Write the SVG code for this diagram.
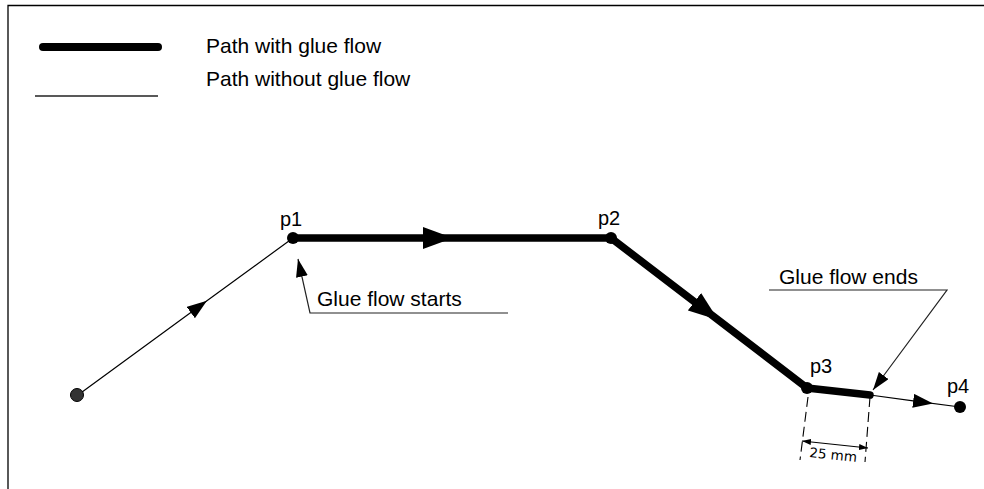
<svg xmlns="http://www.w3.org/2000/svg" width="984" height="489" viewBox="0 0 984 489">
<style>
  .txt { font-family: "Liberation Sans", Arial, sans-serif; font-size: 21px; fill: #000; }
  .lbl { font-family: "Liberation Sans", Arial, sans-serif; font-size: 20px; fill: #000; }
  .dim { font-family: "DejaVu Sans", sans-serif; font-size: 13.5px; fill: #000; }
  .thick { fill: none; stroke: #000; stroke-width: 7.5; stroke-linecap: round; stroke-linejoin: round; }
  .thin { fill: none; stroke: #000; stroke-width: 1.2; }
  .leader { fill: none; stroke: #222; stroke-width: 1.2; }
  .dash { fill: none; stroke: #000; stroke-width: 1.1; stroke-dasharray: 10 5; }
  .frame { fill: none; stroke: #000; stroke-width: 1.3; }
  .dot { fill: #000; }
</style>
<defs>
  <marker id="thickArrow" markerUnits="userSpaceOnUse" viewBox="0 0 30 22" markerWidth="30" markerHeight="22" refX="0" refY="11" orient="auto">
    <path d="M0,0 L30,11 L0,22 z" fill="#000"/>
  </marker>
  <marker id="thinArrow" markerUnits="userSpaceOnUse" viewBox="0 0 20 14" markerWidth="20" markerHeight="14" refX="0" refY="7" orient="auto">
    <path d="M0,0 L20,7 L0,14 z" fill="#000"/>
  </marker>
  <marker id="leaderArrow" markerUnits="userSpaceOnUse" viewBox="0 0 18 12" markerWidth="18" markerHeight="12" refX="18" refY="6" orient="auto">
    <path d="M0,0 L18,6 L0,12 z" fill="#000"/>
  </marker>
  <marker id="dimArrow" markerUnits="userSpaceOnUse" viewBox="0 0 9 6" markerWidth="9" markerHeight="6" refX="9" refY="3" orient="auto-start-reverse">
    <path d="M0,0 L9,3 L0,6 z" fill="#000"/>
  </marker>
</defs>

<path class="frame" d="M8,489 L8,5.5 L984,5.5"/>

<g id="legend">
  <line x1="43" y1="47" x2="158" y2="47" stroke="#000" stroke-width="8" stroke-linecap="round"/>
  <text class="txt" x="206" y="53">Path with glue flow</text>
  <line x1="35" y1="96" x2="158" y2="96" stroke="#222" stroke-width="1.3"/>
  <text class="txt" x="206" y="86">Path without glue flow</text>
</g>

<g id="connectors">
  <path class="thin" d="M78,395 L190.8,312.6 L293,238" marker-mid="url(#thinArrow)"/>
  <path class="thick" d="M293,238 L423,238 L611,238" marker-mid="url(#thickArrow)"/>
  <path class="thick" d="M611,238 L694.4,301.8 L807,388" marker-mid="url(#thickArrow)"/>
  <path class="thick" d="M807,388 L870,395"/>
  <path class="thin" d="M870,395 L913.2,400.8 L960,407" marker-mid="url(#thinArrow)"/>
</g>

<g id="start">
  <circle cx="77" cy="395" r="6.5" fill="#333" stroke="#000" stroke-width="1"/>
</g>
<g id="p1">
  <circle class="dot" cx="293" cy="238" r="6"/>
  <text class="lbl" x="280" y="226">p1</text>
</g>
<g id="p2">
  <circle class="dot" cx="611" cy="238" r="6"/>
  <text class="lbl" x="598" y="225">p2</text>
</g>
<g id="p3">
  <circle class="dot" cx="807" cy="388" r="6"/>
  <text class="lbl" x="810" y="373">p3</text>
</g>
<g id="p4">
  <circle class="dot" cx="960" cy="407" r="6"/>
  <text class="lbl" x="947" y="393">p4</text>
</g>

<g id="glue-flow-starts">
  <path class="leader" d="M508,313 L310,313 L298,259" marker-end="url(#leaderArrow)"/>
  <text class="txt" x="317" y="306">Glue flow starts</text>
</g>

<g id="glue-flow-ends">
  <path class="leader" d="M769,290 L947,290 L873,390" marker-end="url(#leaderArrow)"/>
  <text class="txt" x="779" y="284">Glue flow ends</text>
</g>

<g id="dimension">
  <path class="dash" d="M808,397 L800,460"/>
  <path class="dash" d="M870,397 L865,462"/>
  <path class="thin" d="M802,441 L868,448" marker-start="url(#dimArrow)" marker-end="url(#dimArrow)"/>
  <text class="dim" x="809" y="457" transform="rotate(6 809 457)">25 mm</text>
</g>
</svg>
